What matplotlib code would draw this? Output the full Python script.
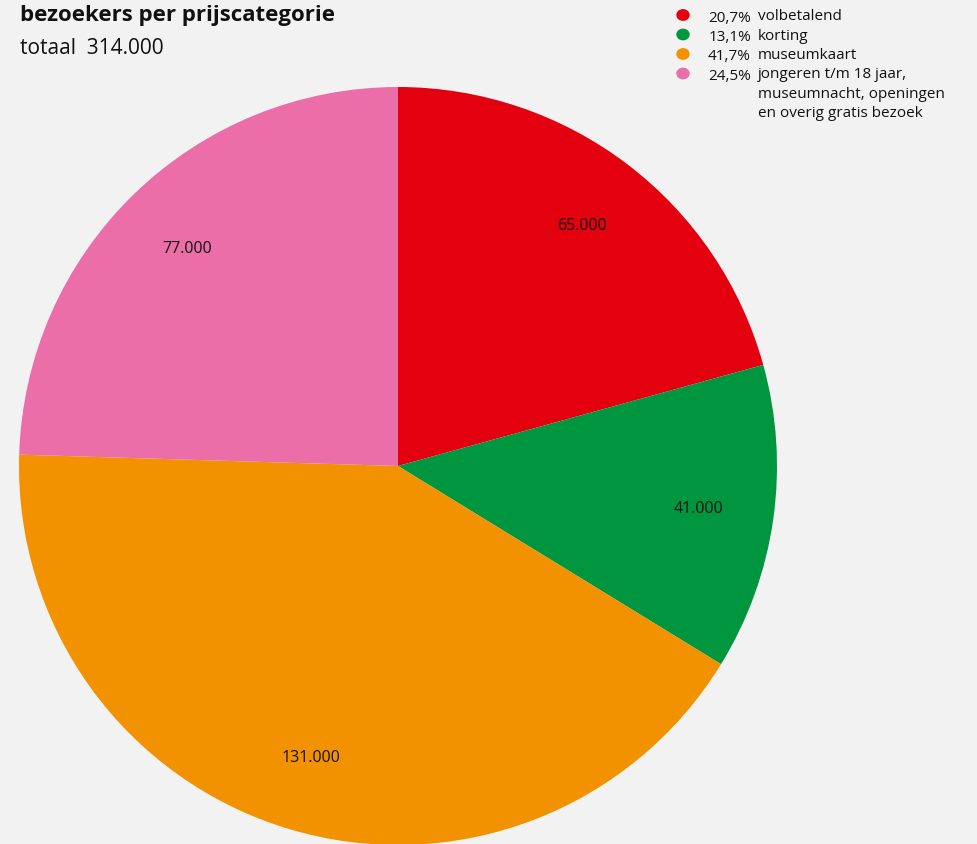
import matplotlib.pyplot as plt

plt.rcParams['font.family'] = ['Open Sans', 'DejaVu Sans']

# data
categories = ['volbetalend', 'korting', 'museumkaart',
              'jongeren t/m 18 jaar,\nmuseumnacht, openingen\nen overig gratis bezoek']
visitors = [65000, 41000, 131000, 77000]
colors = ['#E3000F', '#009640', '#F39200', '#EC6EA8']
total = sum(visitors)

def nl(n):
    return f'{n:,}'.replace(',', '.')

W, H = 978, 845
fig = plt.figure(figsize=(W / 100, H / 100), dpi=100)
fig.patch.set_facecolor('#F2F2F2')

# pie axes: centre (398, 467) px, radius 379 px
cx, cy, r = 398, 467, 379
ax = fig.add_axes([(cx - r) / W, (H - cy - r) / H, 2 * r / W, 2 * r / H])
ax.set_facecolor('#F2F2F2')
wedges, texts = ax.pie(visitors, colors=colors, startangle=90, counterclock=False,
                       labels=[nl(v) for v in visitors], labeldistance=0.8,
                       textprops=dict(fontsize=11.5, color='#111111', ha='center', va='center'),
                       wedgeprops=dict(linewidth=0))
ax.set_xlim(-1, 1)
ax.set_ylim(-1, 1)
ax.set_aspect('equal')
ax.axis('off')

# title
fig.text(20 / W, 1 - 16 / H, 'bezoekers per prijscategorie', fontsize=16,
         fontweight='bold', ha='left', va='center', color='#111111')
fig.text(20 / W, 1 - 48 / H, f'totaal  {nl(total)}', fontsize=15,
         ha='left', va='center', color='#111111')

# legend
y0, dy = 16, 19.5
for i, (lab, v, c) in enumerate(zip(categories, visitors, colors)):
    y = 1 - (y0 + i * dy) / H
    fig.patches.append(plt.Circle((683 / W, y), 6 / W, color=c,
                                  transform=fig.transFigure, figure=fig))
    pct = f'{v / total * 100:.1f}%'.replace('.', ',')
    fig.text(751 / W, y, pct, fontsize=11, ha='right', va='center_baseline', color='#111111')
    fig.text(758 / W, y + 7 / H, lab, fontsize=11, ha='left', va='top',
             color='#111111', linespacing=1.4)

fig.savefig('out.png', dpi=100, facecolor=fig.get_facecolor())
